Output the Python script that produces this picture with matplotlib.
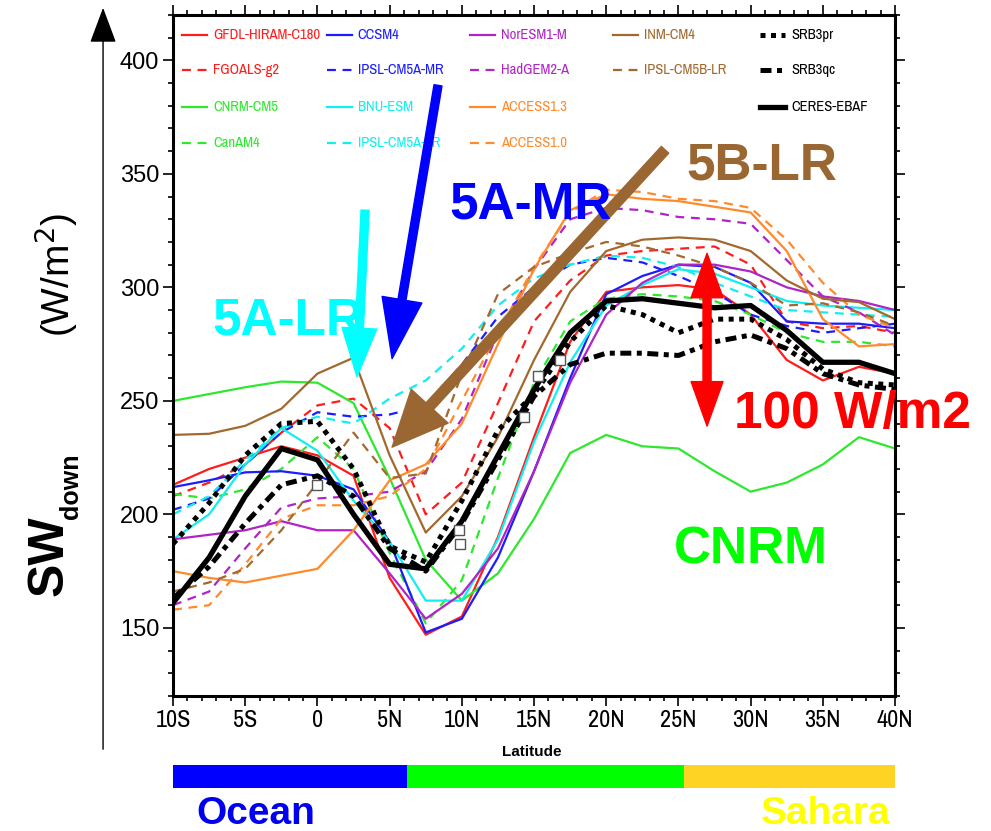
import numpy as np
import matplotlib
matplotlib.use("Agg")
import matplotlib.pyplot as plt
from matplotlib import font_manager
from matplotlib.patches import FancyArrowPatch

# pick a condensed face if one is installed
files = [f for f in font_manager.fontManager.ttflist]
narrow_kw = dict(family='Liberation Sans')
narrow_scale = 1.0
for f in files:
    if 'Narrow' in f.name:
        narrow_kw = dict(family=f.name)
        narrow_scale = 1.2
        break
else:
    for f in files:
        if 'DejaVuSansCondensed' in f.fname.replace('-', ''):
            narrow_kw = dict(family='DejaVu Sans', stretch='condensed')
            narrow_scale = 1.05
            break
print(narrow_kw)
plt.rcParams['font.family'] = ['Liberation Sans', 'DejaVu Sans']

# latitude grid (negative = S)
lat = [-10, -7.5, -5, -2.5, 0, 2.5, 5, 7.5, 10, 12.5, 15, 17.5, 20, 22.5, 25, 27.5, 30, 32.5, 35, 37.5, 40]

gfdl = [213, 220, 225, 230, 226, 217, 172, 147, 155, 190, 234, 276, 298, 300, 301, 299, 288, 268, 259, 265, 262]
fgoals = [208, 214, 222, 236, 248, 251, 238, 200, 214, 249, 285, 303, 314, 316, 317, 318, 310, 285, 282, 283, 280]
cnrm = [250, 253, 256, 258.5, 258, 249, 216, 180, 162, 174, 198, 227, 235, 230, 229, 219, 210, 214, 222, 234, 229]
canam = [209, 207, 211, 220, 234, 220, 183, 152, 171, 216, 258, 285, 295, 297, 296, 294, 288, 280, 276, 276, 274]
ccsm = [212, 215, 218.5, 219, 217, 211, 188, 148, 154, 181, 219, 260, 297, 305, 310, 309, 302, 285, 284, 284, 282]
ipsl_mr = [202, 207, 222, 236, 245, 243, 244, 248, 266, 287, 300, 310, 313, 311, 305, 298, 288, 283, 280, 282, 284]
bnu = [189, 200, 222, 238, 228, 206, 188, 162, 162, 189, 232, 267, 292, 301, 308, 306, 300, 294, 292, 291, 290]
ipsl_lr = [200, 208, 224, 238, 243, 240, 251, 259, 273, 292, 304, 310, 314, 313, 309, 302, 296, 290, 289, 288, 287]
noresm = [189, 191, 193, 197, 193, 193, 174, 154, 165, 185, 219, 258, 288, 302, 310, 310, 307, 300, 296, 294, 290]
hadgem = [160, 166, 185, 203, 207, 208, 210, 219, 242, 280, 308, 330, 335, 334, 331, 330, 328, 312, 296, 289, 279]
access13 = [175, 172, 170, 173, 176, 193, 215, 222, 240, 275, 308, 334, 341, 339, 338, 335.5, 333, 316, 286, 274, 275]
access10 = [158, 160, 178, 198, 204, 204, 208, 220, 250, 280, 309, 333, 343, 342, 339, 338, 335, 321, 302, 288, 282]
inm = [235, 235.5, 239, 246.5, 262, 269, 226, 192, 208, 234, 268, 298, 316, 321, 322, 321, 316, 303, 295, 293.5, 286]
ipsl_5b = [166, 170, 176, 193, 214, 236, 216, 218, 262, 297, 309, 315, 320, 318, 314, 309, 302, 292, 293, 289, 283]
srb3pr = [187, 205, 226, 240, 241, 220, 186, 179, 206, 237, 253, 276, 292, 288, 280, 286, 286, 277, 264, 258, 257]
srb3qc = [163, 177, 196, 213, 217, 208, 185, 175, 196, 224, 252, 266, 271, 271, 270, 276, 279, 273, 262, 257, 255]
ceres = [161, 181, 208, 229, 224, 200, 178, 176, 197, 226, 255, 280, 294, 295, 293, 291, 292, 281, 267, 267, 262]

# open square markers
sq_lat = [0, 9.8, 9.9, 14.3, 15.3, 16.8]
sq_val = [213, 193, 187, 243, 261, 268]

# surface-type bar below the axis
region_edges = [-10, 6.2, 25.4, 40]
region_colors = ['#0000ff', '#00ff00', '#ffd324']

RED, BLUE, GREEN, CYAN = '#ff1c1c', '#1c1cff', '#2ee82e', '#10eef0'
PURP, ORNG, BRWN = '#b024c6', '#ff8a2c', '#a2692f'
DASH = (0, (4, 3))

columns = [
    [('GFDL-HIRAM-C180', gfdl, RED, '-', 1.6), ('FGOALS-g2', fgoals, RED, DASH, 1.6),
     ('CNRM-CM5', cnrm, GREEN, '-', 1.6), ('CanAM4', canam, GREEN, DASH, 1.6)],
    [('CCSM4', ccsm, BLUE, '-', 1.6), ('IPSL-CM5A-MR', ipsl_mr, BLUE, DASH, 1.6),
     ('BNU-ESM', bnu, CYAN, '-', 1.6), ('IPSL-CM5A-LR', ipsl_lr, CYAN, DASH, 1.6)],
    [('NorESM1-M', noresm, PURP, '-', 1.6), ('HadGEM2-A', hadgem, PURP, DASH, 1.6),
     ('ACCESS1.3', access13, ORNG, '-', 1.6), ('ACCESS1.0', access10, ORNG, DASH, 1.6)],
    [('INM-CM4', inm, BRWN, '-', 1.6), ('IPSL-CM5B-LR', ipsl_5b, BRWN, DASH, 1.6)],
    [('SRB3pr', srb3pr, 'black', (0, (1, 1.1)), 3.6), ('SRB3qc', srb3qc, 'black', (0, (2.2, 1.1, 1, 1.1)), 3.6),
     ('CERES-EBAF', ceres, 'black', '-', 3.8)],
]

fig = plt.figure(figsize=(9.91, 8.31), dpi=100)
ax = fig.add_axes([0.1746, 0.1625, 0.7286, 0.8195])

for col in columns:
    for label, vals, c, ls, lw in col:
        ax.plot(lat, vals, color=c, linestyle=ls, linewidth=lw, dash_capstyle='butt', zorder=3 if lw > 3 else 2)
ax.plot(sq_lat, sq_val, linestyle='none', marker='s', mfc='white', mec='#555555', ms=7, mew=1, zorder=4)

ax.set_xlim(-10, 40)
ax.set_ylim(120, 420)
ax.set_xticks([-10, -5, 0, 5, 10, 15, 20, 25, 30, 35, 40])
ax.set_xticklabels(['10S', '5S', '0', '5N', '10N', '15N', '20N', '25N', '30N', '35N', '40N'],
                   fontsize=14.5 * narrow_scale, **narrow_kw)
ax.set_xticks(np.arange(-10, 41, 1), minor=True)
ax.set_yticks([150, 200, 250, 300, 350, 400])
ax.set_yticks(np.arange(120, 421, 10), minor=True)
ax.tick_params(axis='y', labelsize=17)
ax.tick_params(which='both', direction='out', top=True, right=True, width=1.2, pad=3)
ax.tick_params(which='major', length=7)
ax.tick_params(which='minor', length=3.5)
for s in ax.spines.values():
    s.set_linewidth(2.2)

# legend drawn in axes fraction
col_x = [0.0125, 0.213, 0.411, 0.609, 0.813]
row_y = [0.9706, 0.919, 0.865, 0.812]
for ci, col in enumerate(columns):
    for ri, (label, vals, c, ls, lw) in enumerate(col):
        x0 = col_x[ci]
        ax.plot([x0, x0 + 0.035], [row_y[ri]] * 2, transform=ax.transAxes, color=c, linestyle=ls,
                linewidth=lw, dash_capstyle='butt')
        ax.text(x0 + 0.043, row_y[ri], label, transform=ax.transAxes, color=c, fontsize=8.8 * narrow_scale,
                va='center', ha='left', **narrow_kw)


def arrow(tail, tip, color, tw, hw, hl):
    ax.annotate('', xy=tip, xytext=tail, annotation_clip=False, zorder=6,
                arrowprops=dict(arrowstyle=f'simple,tail_width={tw},head_width={hw},head_length={hl}',
                                color=color, shrinkA=0, shrinkB=0, mutation_scale=10))


arrow((3.30, 334), (2.74, 260.6), '#00ffff', 0.58, 2.5, 3.5)
arrow((8.35, 389), (5.17, 268.6), '#0000ff', 0.58, 2.9, 4.3)
arrow((24.07, 360.6), (5.17, 229.6), '#9a6631', 0.72, 3.6, 4.0)
arrow((26.98, 277), (26.98, 315), '#ff0000', 0.58, 2.3, 3.2)
arrow((26.98, 277), (26.98, 238.9), '#ff0000', 0.58, 2.3, 3.2)

big = dict(fontsize=37, fontweight='bold', ha='center', va='center', zorder=7)
ax.text(-2.04, 285, '5A-LR', color='#00ffff', **big)
ax.text(14.79, 336.3, '5A-MR', color='#0000ff', **big)
ax.text(30.79, 353.5, '5B-LR', color='#9a6631', **big)
ax.text(37.02, 244.2, '100 W/m2', color='#ff0000', clip_on=False, **big)
ax.text(30.03, 184.5, 'CNRM', color='#00ff00', **big)

fig.text(0.537, 0.095, 'Latitude', ha='center', va='center', fontsize=11, fontweight='bold')

# region bar
bar = fig.add_axes([0.1746, 0.0517, 0.7286, 0.0277])
for i, c in enumerate(region_colors):
    bar.axvspan(region_edges[i], region_edges[i + 1], color=c, lw=0)
bar.set_xlim(-10, 40)
bar.axis('off')
fig.text(0.258, 0.008, 'Ocean', color='#0000ee', fontsize=28, fontweight='bold', ha='center', va='baseline')
fig.text(0.833, 0.008, 'Sahara', color='#ffff00', fontsize=28, fontweight='bold', ha='center', va='baseline')

# y label with arrow
fig.add_artist(FancyArrowPatch((0.104, 1 - 752 / 831), (0.104, 1 - 5 / 831), transform=fig.transFigure,
                               arrowstyle='-|>,head_length=0.75,head_width=0.28', mutation_scale=30,
                               color='black', lw=1.0))
fig.text(0.050, 1 - 556 / 831, 'SW', rotation=90, fontsize=36, fontweight='bold', ha='center', va='center')
fig.text(0.072, 1 - 486 / 831, 'down', rotation=90, fontsize=18, fontweight='bold', ha='center', va='center')
fig.text(0.057, 1 - 275 / 831, r'(W/m$^2$)', rotation=90, fontsize=28, ha='center', va='center')

fig.savefig('out.png', dpi=100)
